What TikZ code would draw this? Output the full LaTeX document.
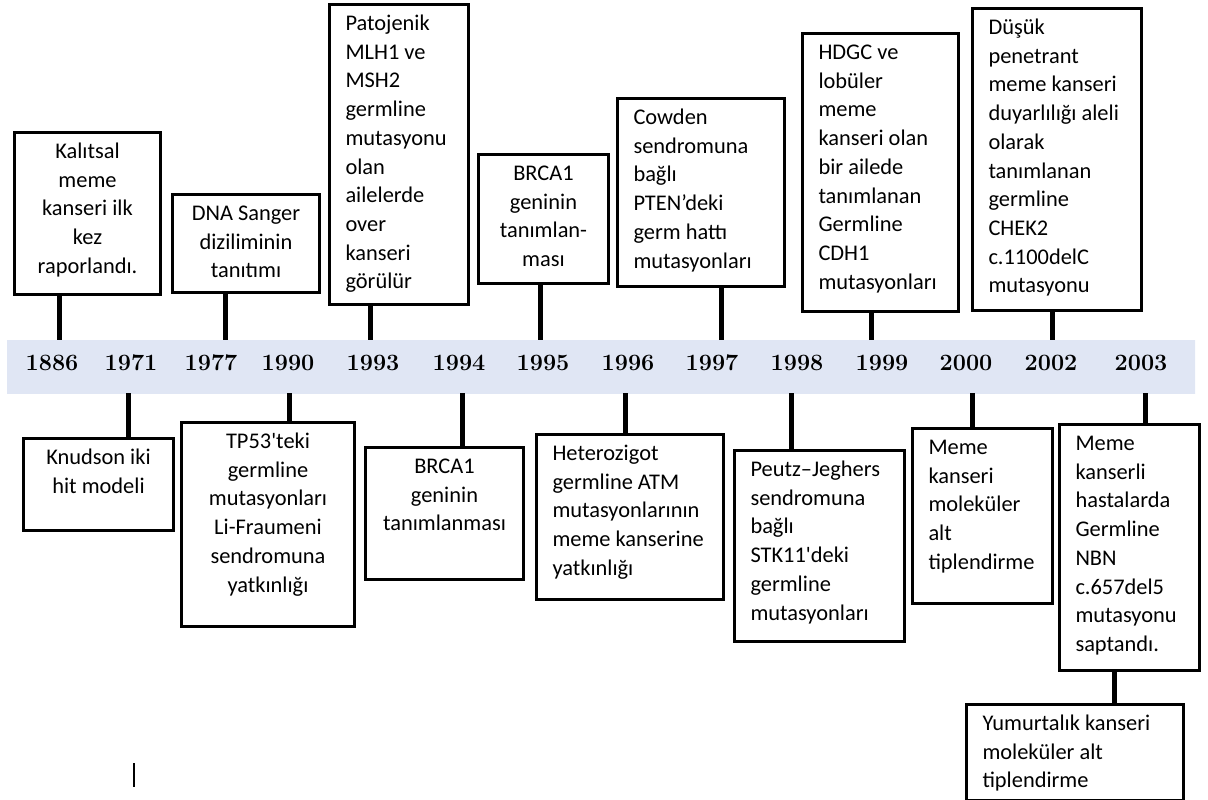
\documentclass[tikz,border=0pt]{standalone}
\usepackage{fontspec}
\usepackage{tikz}
\newfontfamily\boxfont{Carlito}
\definecolor{barlight}{RGB}{224,230,244}
\definecolor{bardark}{RGB}{166,186,228}
\newcommand{\ltext}[3]{\parbox[t][#2][t]{#1}{\raggedright\strut #3}}
\newcommand{\ctext}[3]{\parbox[t][#2][t]{#1}{\centering\strut #3}}

\begin{document}
\begin{tikzpicture}[x=1pt, y=-1pt,
    evbox/.style={draw, line width=3pt, inner xsep=16pt, inner ysep=6pt, anchor=north west,
        font=\boxfont\fontsize{22.4pt}{28.7pt}\selectfont},
    midbox/.style={evbox, inner xsep=10pt},
    link/.style={line width=5pt},
    year/.style={anchor=base, inner sep=0pt, font=\bfseries\fontsize{23.4pt}{28pt}\selectfont}]
    \useasboundingbox (0,0) rectangle (1208,800);

    % time bar
    \node[minimum width=1188pt, minimum height=53pt, inner sep=0pt,
        left color=barlight, middle color=bardark, right color=barlight] (bar) at (601,366.5) {};
    \foreach \yr/\x in {1886/52, 1971/131, 1977/211, 1990/288, 1993/373, 1994/459, 1995/543,
        1996/628, 1997/712, 1998/797, 1999/882, 2000/966, 2002/1051, 2003/1141}
        \node[year] (y\yr) at (\x,370) {\yr};

    % upper events
    \node[midbox] (kalitsal) at (13,131) {\ctext{126pt}{150pt}{Kalıtsal\\meme\\kanseri ilk\\kez\\raporlandı.}};
    \node[midbox] (sanger) at (171,193) {\ctext{127pt}{86pt}{DNA Sanger\\diziliminin\\tanıtımı}};
    \node[evbox] (patojenik) at (328,3) {\ltext{107pt}{288pt}{Patojenik\\MLH1 ve\\MSH2\\germline\\mutasyonu\\olan\\ailelerde\\over\\kanseri\\görülür}};
    \node[midbox] (brcatop) at (477,153) {\ctext{110pt}{117pt}{BRCA1\\geninin\\tanımlan-\\ması}};
    \node[evbox] (cowden) at (616,97) {\ltext{135pt}{176pt}{Cowden\\sendromuna\\bağlı\\PTEN’deki\\germ hattı\\mutasyonları}};
    \node[evbox] (hdgc) at (801,32) {\ltext{124pt}{266pt}{HDGC ve\\lobüler\\meme\\kanseri olan\\bir ailede\\tanımlanan\\Germline\\CDH1\\mutasyonları}};
    \node[evbox] (dusuk) at (971,7) {\ltext{137pt}{290pt}{Düşük\\penetrant\\meme kanseri\\duyarlılığı aleli\\olarak\\tanımlanan\\germline\\CHEK2\\c.1100delC\\mutasyonu}};

    % lower events
    \node[midbox] (knudson) at (22,437) {\ctext{130pt}{80pt}{Knudson iki\\hit modeli}};
    \node[midbox] (tp53) at (180,421) {\ctext{153pt}{192pt}{TP53\textquotesingle teki\\germline\\mutasyonları\\Li-Fraumeni\\sendromuna\\yatkınlığı}};
    \node[midbox] (brcabot) at (364,446) {\ctext{138pt}{120pt}{BRCA1\\geninin\\tanımlanması}};
    \node[evbox] (atm) at (535,433) {\ltext{155pt}{153pt}{Heterozigot\\germline ATM\\mutasyonlarının\\meme kanserine\\yatkınlığı}};
    \node[evbox] (peutz) at (733,449) {\ltext{138pt}{179pt}{Peutz–Jeghers\\sendromuna\\bağlı\\STK11\textquotesingle deki\\germline\\mutasyonları}};
    \node[evbox] (molek) at (911,427) {\ltext{108pt}{163pt}{Meme\\kanseri\\moleküler\\alt\\tiplendirme}};
    \node[evbox] (nbn) at (1058,423) {\ltext{108pt}{234pt}{Meme\\kanserli\\hastalarda\\Germline\\NBN\\c.657del5\\mutasyonu\\saptandı.}};
    \node[evbox] (yumurta) at (965,703) {\ltext{185pt}{84pt}{Yumurtalık kanseri\\moleküler alt\\tiplendirme}};

    % ticks
    \foreach \nm/\x in {kalitsal/59, sanger/225, patojenik/370, brcatop/540, cowden/721, hdgc/871, dusuk/1052}
        \draw[link] (\nm.south -| \x,0) -- (bar.north -| \x,0);
    \foreach \nm/\x in {knudson/128, tp53/289, brcabot/462, atm/625, peutz/791, molek/972, nbn/1145}
        \draw[link] (bar.south -| \x,0) -- (\nm.north -| \x,0);
    \draw[link] (nbn.south -| 1114,0) -- (yumurta.north -| 1114,0);

    \draw[line width=1.5pt] (134,763) -- (134,787);
\end{tikzpicture}
\end{document}
